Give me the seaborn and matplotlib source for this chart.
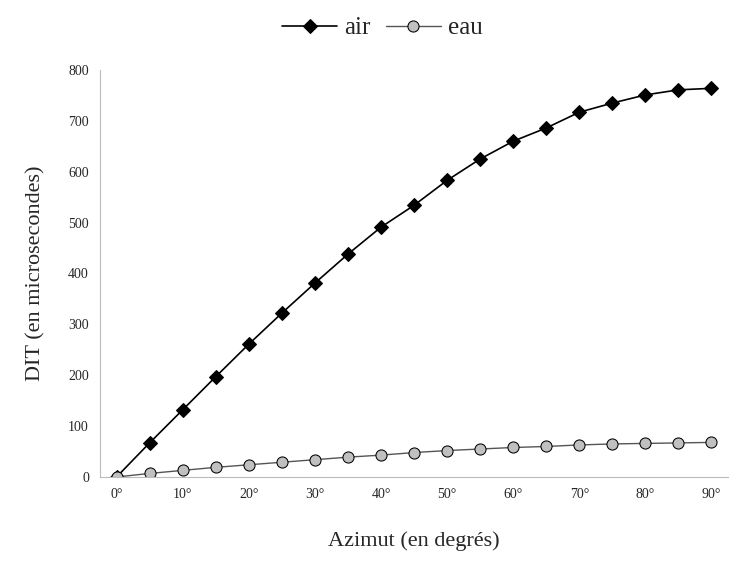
import numpy as np
import pandas as pd
import seaborn as sns
import matplotlib.pyplot as plt

sns.set_style('white')
plt.rcParams['font.family'] = ['Liberation Serif', 'DejaVu Serif']

azimut = list(range(0, 95, 5))
air = [0, 67, 132, 197, 261, 322, 381, 438, 491, 534, 583, 625, 660, 686, 717, 735, 751, 761, 764]
eau = [0, 7, 13, 19, 24, 29, 34, 39, 43, 48, 52, 55, 58, 60, 63, 65, 66, 67, 68]
tick_labels = [f"{a}°" for a in range(0, 100, 10)]

df = pd.DataFrame({'azimut': azimut * 2, 'dit': air + eau,
                   'milieu': ['air'] * len(air) + ['eau'] * len(eau)})

fig = plt.figure(figsize=(7.42, 5.69), dpi=100)
ax = fig.add_axes([100 / 742, 92 / 569, 628 / 742, 407 / 569])

sns.lineplot(data=df[df.milieu == 'air'], x='azimut', y='dit', ax=ax, color='black',
             marker='D', markersize=7, markerfacecolor='black', markeredgecolor='black',
             linewidth=1.2, label='air')
sns.lineplot(data=df[df.milieu == 'eau'], x='azimut', y='dit', ax=ax, color='#555555',
             marker='o', markersize=8, markerfacecolor='#c0c0c0', markeredgecolor='black',
             linewidth=1.0, label='eau')

ax.set_xlim(-2.5, 92.5)
ax.set_ylim(0, 800)
ax.set_xticks(range(0, 100, 10))
ax.set_xticklabels(tick_labels)
ax.set_yticks(range(0, 900, 100))
ax.tick_params(labelsize=10, length=0, pad=8)
for s in ['top', 'right']:
    ax.spines[s].set_visible(False)
for s in ['left', 'bottom']:
    ax.spines[s].set_color('#bbbbbb')
ax.set_xlabel('Azimut (en degrés)', fontsize=16, labelpad=22)
ax.set_ylabel('DIT (en microsecondes)', fontsize=16, labelpad=16)
ax.legend(loc='lower center', bbox_to_anchor=(0.45, 1.02), ncol=2, frameon=False,
          fontsize=18, handlelength=2.2, columnspacing=0.6, handletextpad=0.3)

fig.savefig('out.png', dpi=100)
